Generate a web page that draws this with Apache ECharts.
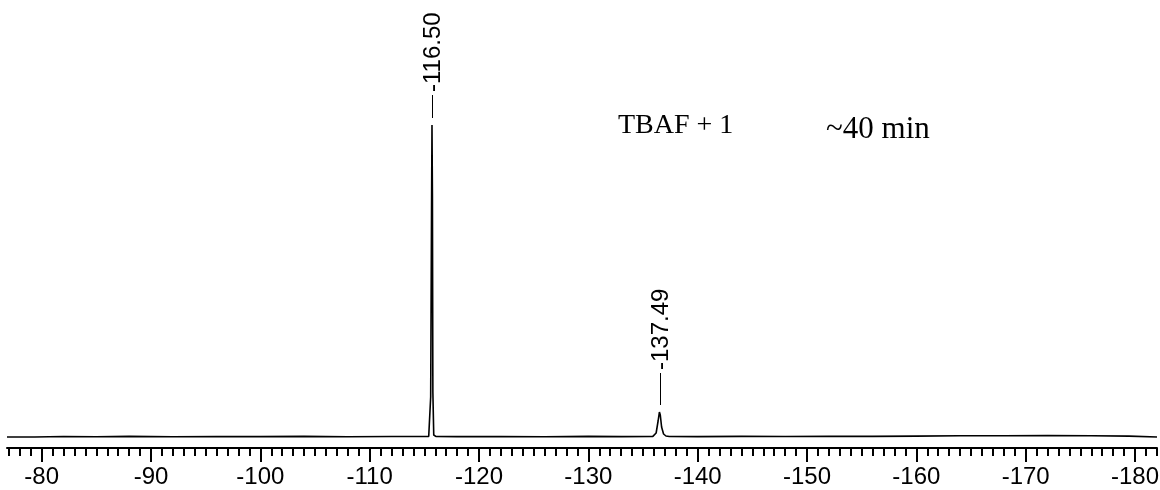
<!DOCTYPE html>
<html>
<head>
<meta charset="utf-8">
<script src="https://cdn.jsdelivr.net/npm/echarts@6/dist/echarts.min.js"></script>
<style>
  html, body { margin: 0; padding: 0; background: #fff; }
  #chart { width: 1160px; height: 490px; }
</style>
</head>
<body>
<div id="chart"></div>
<script>
// 19F NMR spectrum (ppm vs intensity)
const shiftPpm = [
  -76.83, -79.36, -79.40, -82.0, -85.0, -88.0, -92.0, -96.0, -100.0, -104.0,
  -108.0, -112.0, -115.40, -115.58, -115.66, -115.70, -115.74, -115.78, -115.86, -116.05,
  -118.0, -122.0, -126.0, -130.0, -133.0, -135.9, -136.20, -136.38, -136.50, -136.58,
  -136.70, -136.88, -137.10, -137.40, -140.0, -144.0, -148.0, -152.0, -156.0, -160.0,
  -164.0, -168.0, -172.0, -176.0, -179.45, -179.50, -182.01
];
const intensity = [
  0, 0, 0.3, 0.5, 0.2, 0.6, 0.3, 0.5, 0.4, 0.6,
  0.3, 0.5, 0.6, 40, 230, 312, 240, 45, 2, 0.6,
  0.4, 0.5, 0.3, 0.6, 0.4, 0.6, 4, 16, 25, 22,
  10, 3, 1, 0.5, 0.4, 0.6, 0.5, 0.7, 0.6, 0.9,
  1.2, 1.3, 1.4, 1.2, 0.9, 0, 0
];
const peakShifts = [-115.72, -136.56];
const peakHeights = [312, 25];
const peakLabels = ["-116.50", "-137.49"];
const majorTicks = [-80, -90, -100, -110, -120, -130, -140, -150, -160, -170, -180];

// stem length (px) of each peak label
const labelStems = [23, 32];

const X_LEFT = -76.83, X_RIGHT = -182.01;
const minorTicks = [];
for (let v = -77; v >= -182; v--) minorTicks.push(v);

const chart = echarts.init(document.getElementById("chart"), null, { renderer: "canvas" });

const axisBase = {
  type: "value",
  inverse: true,
  min: X_RIGHT,
  max: X_LEFT,
  position: "bottom",
  splitLine: { show: false },
};

chart.setOption({
  animation: false,
  backgroundColor: "#fff",
  grid: { left: 7, right: 3, top: 48, bottom: 42, outerBoundsMode: "none", containLabel: false },
  xAxis: [
    Object.assign({}, axisBase, {
      axisLine: { onZero: false, lineStyle: { color: "#000", width: 2 } },
      axisTick: { customValues: majorTicks, length: 14, lineStyle: { color: "#000", width: 2 } },
      axisLabel: {
        customValues: majorTicks,
        color: "#000",
        fontFamily: "Liberation Sans",
        fontSize: 24,
        margin: 17,
      },
    }),
    Object.assign({}, axisBase, {
      axisLine: { show: false, onZero: false },
      axisTick: { customValues: minorTicks, length: 8, lineStyle: { color: "#000", width: 2 } },
      axisLabel: { show: false },
    }),
  ],
  yAxis: { type: "value", min: -11, max: 389, show: false },
  series: [
    {
      type: "line",
      xAxisIndex: 0,
      data: shiftPpm.map((x, i) => [x, intensity[i]]),
      showSymbol: false,
      lineStyle: { color: "#000", width: 1.6 },
    },
    {
      type: "custom",
      xAxisIndex: 0,
      data: peakShifts.map((x, i) => [x, peakHeights[i]]),
      renderItem: (params, api) => {
        const p = api.coord([api.value(0), api.value(1)]);
        const x = Math.round(p[0]) + 0.5;
        const lineBottom = p[1] - 7;
        const lineTop = lineBottom - labelStems[params.dataIndex];
        return {
          type: "group",
          children: [
            {
              type: "line",
              shape: { x1: x, y1: lineBottom, x2: x, y2: lineTop },
              style: { stroke: "#000", lineWidth: 1 },
            },
            {
              type: "text",
              x: x + 1,
              y: lineTop - 3,
              rotation: Math.PI / 2,
              style: {
                text: peakLabels[params.dataIndex],
                fill: "#000",
                fontFamily: "Liberation Sans",
                fontSize: 24,
                align: "left",
                verticalAlign: "middle",
              },
            },
          ],
        };
      },
    },
  ],
  graphic: [
    {
      type: "text",
      x: 618,
      y: 126,
      style: {
        text: "TBAF + 1", fill: "#000", fontFamily: "Liberation Serif", fontSize: 28,
        align: "left", verticalAlign: "middle",
      },
    },
    {
      type: "text",
      x: 826,
      y: 130,
      style: {
        text: "~40 min", fill: "#000", fontFamily: "Liberation Serif", fontSize: 31,
        align: "left", verticalAlign: "middle",
      },
    },
  ],
});

window.addEventListener("resize", () => chart.resize());
</script>
</body>
</html>
